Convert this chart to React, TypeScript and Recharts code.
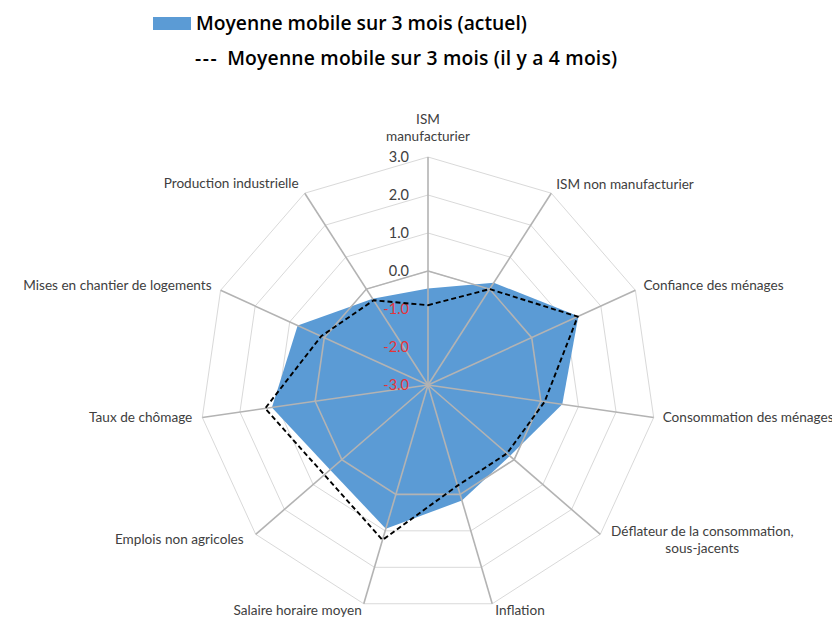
import React from "react";
import { PolarAngleAxis, PolarGrid, PolarRadiusAxis, Radar, RadarChart } from "recharts";

const categories = [
  "ISM manufacturier",
  "ISM non manufacturier",
  "Confiance des ménages",
  "Consommation des ménages",
  "Déflateur de la consommation, sous-jacents",
  "Inflation",
  "Salaire horaire moyen",
  "Emplois non agricoles",
  "Taux de chômage",
  "Mises en chantier de logements",
  "Production industrielle",
];

// how each category label is broken into lines
const labelLines = [
  ["ISM", "manufacturier"],
  ["ISM non manufacturier"],
  ["Confiance des ménages"],
  ["Consommation des ménages"],
  ["Déflateur de la consommation,", "sous-jacents"],
  ["Inflation"],
  ["Salaire horaire moyen"],
  ["Emplois non agricoles"],
  ["Taux de chômage"],
  ["Mises en chantier de logements"],
  ["Production industrielle"],
];

const actuel = [-0.46, 0.2, 1.35, 0.57, -0.15, 0.17, 0.94, 0.41, 1.15, 0.77, -0.3];
const ilYa4Mois = [-0.9, 0.0, 1.33, 0.1, -0.25, -0.24, 1.25, 0.61, 1.33, 0.09, -0.35];

const seriesNames = ["Moyenne mobile sur 3 mois (actuel)", "Moyenne mobile sur 3 mois (il y a 4 mois)"];
const radiusTicks = [-3, -2, -1, 0, 1, 2, 3];

const data = categories.map((name, i) => ({
  name,
  actuel: actuel[i],
  ilYa4Mois: ilYa4Mois[i],
}));

const CX = 420;
const CY = 377;
const R = 228;
const FONT = "Lato, 'Open Sans', sans-serif";

// label placement relative to the outer vertex: anchor, dx, dy of each line
const placement: { anchor: "start" | "middle" | "end"; dx: number; dy: number[] }[] = [
  { anchor: "middle", dx: 0, dy: [-38, -21] },
  { anchor: "start", dx: 5, dy: [-9] },
  { anchor: "start", dx: 8, dy: [-5] },
  { anchor: "start", dx: 9, dy: [0] },
  { anchor: "middle", dx: 102, dy: [-3, 14] },
  { anchor: "start", dx: 3, dy: [6] },
  { anchor: "end", dx: -2, dy: [6] },
  { anchor: "end", dx: -12, dy: [5] },
  { anchor: "end", dx: -10, dy: [0] },
  { anchor: "end", dx: -9, dy: [-5] },
  { anchor: "end", dx: -6, dy: [-10] },
];

const AngleTick = (props: any) => {
  const index = props.index;
  const a = ((90 - (index * 360) / categories.length) * Math.PI) / 180;
  const vx = CX + R * Math.cos(a);
  const vy = CY - R * Math.sin(a);
  const p = placement[index];
  return (
    <g>
      {labelLines[index].map((line, j) => (
        <text
          key={j}
          x={vx + p.dx}
          y={vy + p.dy[j]}
          textAnchor={p.anchor}
          dominantBaseline="central"
          fill="#404040"
          fontSize={13.6}
          fontFamily={FONT}
        >
          {line}
        </text>
      ))}
    </g>
  );
};

const RadiusTick = (props: any) => {
  const v = props.payload.value;
  return (
    <text
      x={props.x - 19}
      y={props.y - 1}
      textAnchor="end"
      dominantBaseline="central"
      fill={v < 0 ? "#e4343a" : "#404040"}
      fontSize={14.5}
      fontFamily={FONT}
    >
      {v.toFixed(1)}
    </text>
  );
};

const App = () => {
  return (
    <div style={{ position: "relative", width: 832, height: 611 }}>
      <div
        style={{
          position: "absolute",
          left: 145,
          top: 2,
          fontFamily: "'Open Sans', sans-serif",
          fontWeight: 600,
          fontSize: 19.3,
          color: "#000",
          lineHeight: "26px",
        }}
      >
        <div style={{ display: "flex", alignItems: "center", height: 26 }}>
          <span style={{ display: "inline-block", width: 38, height: 13, background: "#5b9bd5", marginRight: 5 }} />
          <span>{seriesNames[0]}</span>
        </div>
        <div style={{ display: "flex", alignItems: "center", height: 26, marginTop: 9, marginLeft: 42 }}>
          <span style={{ letterSpacing: 1.5, marginRight: 9 }}>---</span>
          <span style={{ letterSpacing: 0.2 }}>{seriesNames[1]}</span>
        </div>
      </div>
      <RadarChart
        width={832}
        height={611}
        data={data}
        cx={CX}
        cy={CY}
        outerRadius={R}
        margin={{ top: 0, right: 0, bottom: 0, left: 0 }}
        style={{ position: "absolute", left: 0, top: 0, overflow: "visible" }}
      >
        <PolarGrid gridType="polygon" radialLines={false} stroke="#d9d9d9" />
        <PolarAngleAxis dataKey="name" tick={<AngleTick />} axisLine={false} tickLine={false} />
        <PolarRadiusAxis
          angle={90}
          domain={[-3, 3]}
          ticks={radiusTicks as any}
          tickCount={7}
          type="number"
          axisLine={false}
          tick={<RadiusTick />}
        />
        <Radar
          name={seriesNames[0]}
          dataKey="actuel"
          fill="#5b9bd5"
          fillOpacity={1}
          stroke="none"
          isAnimationActive={false}
        />
        <PolarGrid
          gridType="polygon"
          polarRadius={[R / 2]}
          radialLines={true}
          stroke="#b3b3b3"
          strokeWidth={1.6}
          zIndex={450}
        />
        <Radar
          name={seriesNames[1]}
          dataKey="ilYa4Mois"
          fill="none"
          fillOpacity={0}
          stroke="#000"
          strokeWidth={1.9}
          strokeDasharray="5 3"
          isAnimationActive={false}
          zIndex={500}
        />
      </RadarChart>
    </div>
  );
};

export default App;
